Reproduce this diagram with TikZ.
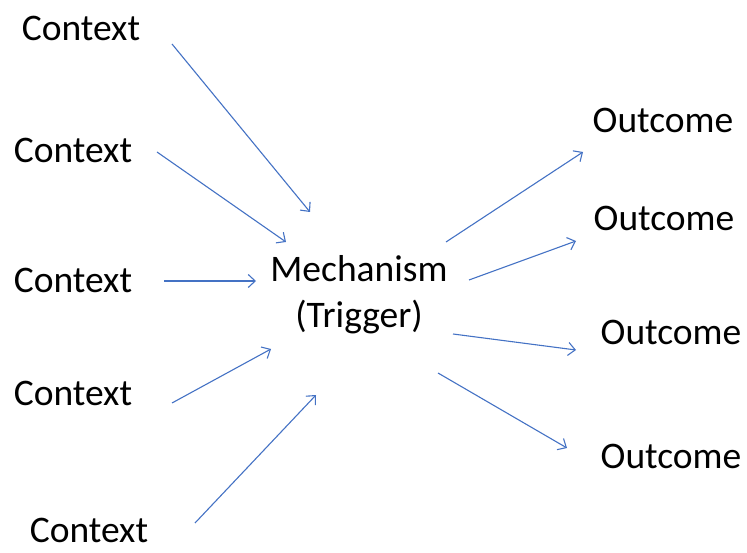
\documentclass[tikz,border=0pt]{standalone}
\usepackage{fontspec}
\setmainfont{Carlito}
\usetikzlibrary{arrows.meta}
\definecolor{arrowblue}{HTML}{4472C4}
\begin{document}
\begin{tikzpicture}[x=1pt,y=1pt,
  lbl/.style={font=\fontsize{37.5}{46}\selectfont, inner sep=0pt, align=center},
  conn/.style={draw=arrowblue, line width=1.1pt, -{Straight Barb[length=7pt,width=13pt,line width=1.1pt]}}]
\useasboundingbox (0,0) rectangle (747,552);
% text nodes (y measured upward: 552 - pixel y)
\node[lbl] (c1) at (81,524) {Context};
\node[lbl] (c2) at (73,402) {Context};
\node[lbl] (c3) at (73,272) {Context};
\node[lbl] (c4) at (73,159) {Context};
\node[lbl] (c5) at (89,22) {Context};
\node[lbl] (m) at (359,257) {Mechanism\\(Trigger)};
\node[lbl] (o1) at (663,432) {Outcome};
\node[lbl] (o2) at (664,334) {Outcome};
\node[lbl] (o3) at (671,220) {Outcome};
\node[lbl] (o4) at (671,96) {Outcome};
% arrow end points
\coordinate (a1s) at (172,508); \coordinate (a1e) at (310,340);
\coordinate (a2s) at (157,400); \coordinate (a2e) at (286,310);
\coordinate (a3s) at (164,271); \coordinate (a3e) at (256,271);
\coordinate (a4s) at (172,149); \coordinate (a4e) at (271,203);
\coordinate (a5s) at (195,29);  \coordinate (a5e) at (316,157);
\coordinate (b1s) at (446,310); \coordinate (b1e) at (583,400);
\coordinate (b2s) at (469,272); \coordinate (b2e) at (576,311);
\coordinate (b3s) at (453,218); \coordinate (b3e) at (576,202);
\coordinate (b4s) at (438,179); \coordinate (b4e) at (567,104);
\draw[conn] (a1s) -- (a1e);
\draw[conn] (a2s) -- (a2e);
\draw[conn] (a3s) -- (a3e);
\draw[conn] (a4s) -- (a4e);
\draw[conn] (a5s) -- (a5e);
\draw[conn] (b1s) -- (b1e);
\draw[conn] (b2s) -- (b2e);
\draw[conn] (b3s) -- (b3e);
\draw[conn] (b4s) -- (b4e);
\end{tikzpicture}
\end{document}
